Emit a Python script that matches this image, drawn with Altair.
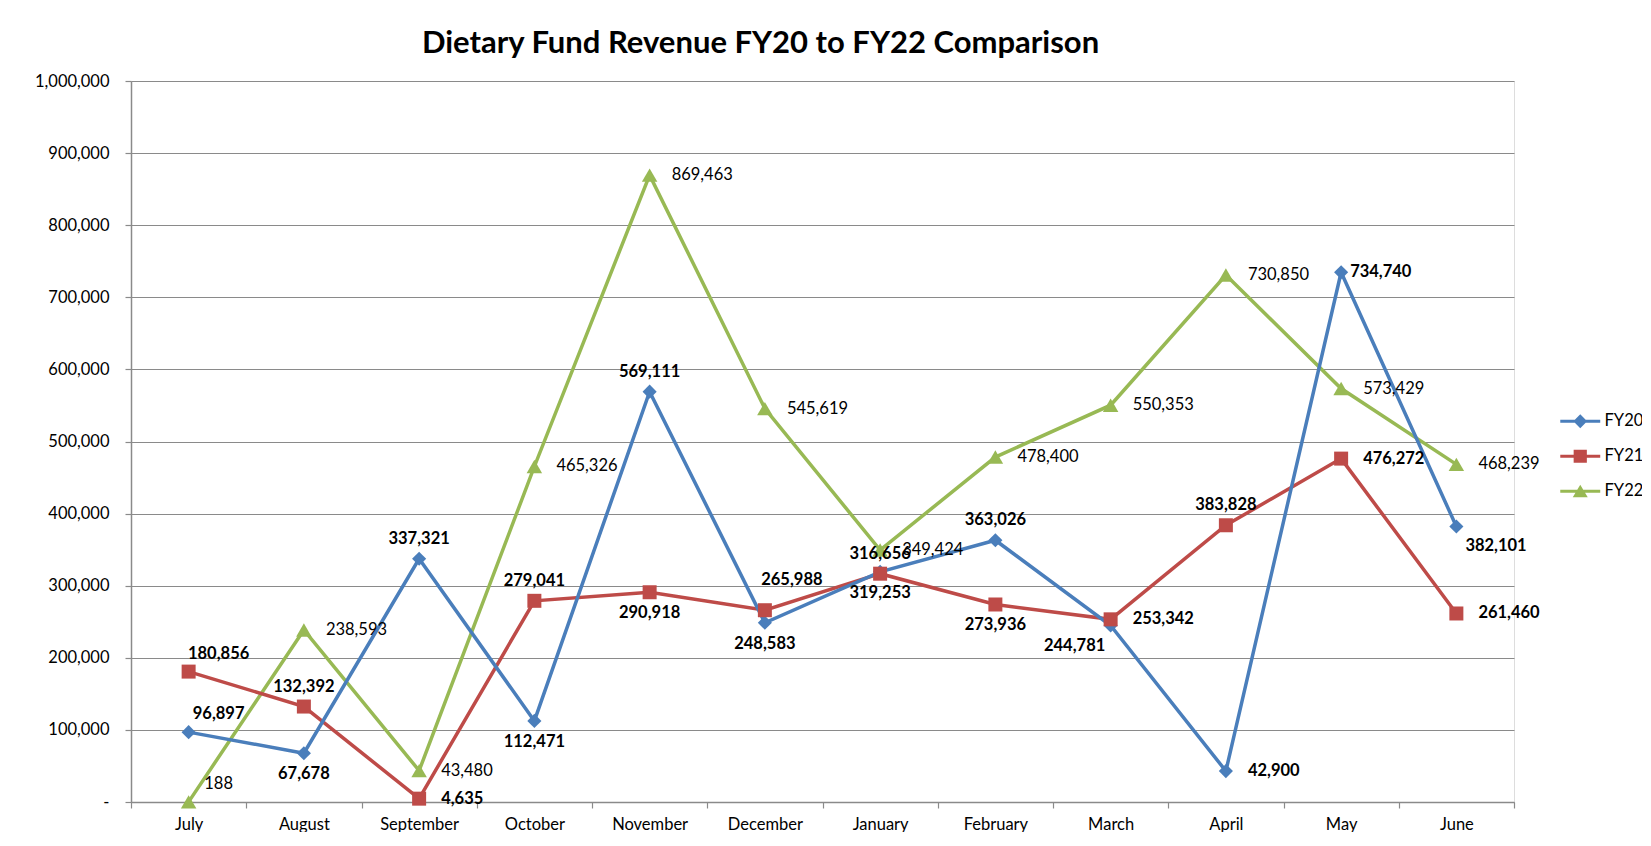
import altair as alt
import pandas as pd

months = ["July", "August", "September", "October", "November", "December",
          "January", "February", "March", "April", "May", "June"]
series_names = ["FY20", "FY21", "FY22"]

fy20 = [96897, 67678, 337321, 112471, 569111, 248583, 319253, 363026, 244781, 42900, 734740, 382101]
fy21 = [180856, 132392, 4635, 279041, 290918, 265988, 316656, 273936, 253342, 383828, 476272, 261460]
fy22 = [188, 238593, 43480, 465326, 869463, 545619, 349424, 478400, 550353, 730850, 573429, 468239]

# label placement (like Excel's data-label position setting)
fy20_label_pos = ["aboveright", "below", "above", "below", "above", "below",
                  "below", "above", "belowleft", "right", "rightnear", "belowright"]
fy21_label_pos = ["aboveright", "above", "right", "above", "below", "upright",
                  "above", "below", "right", "above", "right", "right"]
fy22_label_pos = ["aboveright", "right", "right", "right", "right", "right",
                  "right", "right", "right", "right", "right", "right"]

colors = ["#4A7EBB", "#BE4B48", "#98B954"]
marker_shapes = ["diamond", "square", "triangle-up"]
marker_sizes = [200, 196, 240]
label_weights = ["bold", "bold", "normal"]

rows = []
for name, vals, poss in zip(series_names, [fy20, fy21, fy22],
                            [fy20_label_pos, fy21_label_pos, fy22_label_pos]):
    for m, v, p in zip(months, vals, poss):
        rows.append({"month": m, "series": name, "value": v, "pos": p, "label": f"{v:,}"})
df = pd.DataFrame(rows)

FONT = "Lato"
FS = 16.5
GRID = "#8A8A8A"

placements = {
    "above": dict(dx=0, dy=-20, align="center"),
    "below": dict(dx=0, dy=21, align="center"),
    "right": dict(dx=22, dy=0, align="left"),
    "rightnear": dict(dx=9, dy=0, align="left"),
    "aboveright": dict(dx=30, dy=-18, align="center"),
    "belowright": dict(dx=9, dy=19, align="left"),
    "belowleft": dict(dx=-36, dy=20, align="center"),
    "upright": dict(dx=27, dy=-30, align="center"),
}

x_enc = alt.X(
    "month:N", sort=months,
    scale=alt.Scale(type="band", paddingInner=0, paddingOuter=0),
    axis=alt.Axis(title=None, labelAngle=0, tickBand="extent", grid=False,
                  domainColor=GRID, domainWidth=1.5, tickColor=GRID, tickWidth=1.2,
                  tickSize=6, labelPadding=8, labelFont=FONT, labelFontSize=FS,
                  labelColor="#000000"),
)
y_enc = alt.Y(
    "value:Q",
    scale=alt.Scale(domain=[0, 1000000], nice=False, zero=True),
    axis=alt.Axis(title=None, values=list(range(0, 1000001, 100000)),
                  labelExpr="datum.value == 0 ? '-' : format(datum.value, ',')",
                  grid=True, gridColor=GRID, gridWidth=1.2,
                  domainColor=GRID, domainWidth=1.5, tickColor=GRID, tickWidth=1.2,
                  tickSize=6, labelPadding=16, labelFont=FONT, labelFontSize=FS,
                  labelColor="#000000"),
)

color_scale = alt.Scale(domain=series_names, range=colors)

base = alt.Chart(df)
layers = []

# lines (FY20 drawn on top)
for name, col in reversed(list(zip(series_names, colors))):
    layers.append(
        base.transform_filter(alt.datum.series == name)
        .mark_line(strokeWidth=3.5, color=col)
        .encode(x=x_enc, y=y_enc)
    )

# markers
for name, col, shp, sz in zip(series_names, colors, marker_shapes, marker_sizes):
    layers.append(
        base.transform_filter(alt.datum.series == name)
        .mark_point(shape=shp, filled=True, size=sz, color=col, opacity=1)
        .encode(x=x_enc, y=y_enc)
    )

# legend-only layer (line + marker symbols)
legend_paths = [
    "M-3.33,-0.27H3.33V0.27H-3.33Z M0,-1.15L1.15,0L0,1.15L-1.15,0Z",
    "M-3.33,-0.27H3.33V0.27H-3.33Z M-1.1,-1.1H1.1V1.1H-1.1Z",
    "M-3.33,-0.27H3.33V0.27H-3.33Z M0,-1.1L1.25,1L-1.25,1Z",
]
leg = alt.Legend(title=None, orient="none", legendX=1441, legendY=332,
                 padding=0, labelFont=FONT, labelFontSize=FS, labelColor="#000000",
                 labelOffset=16, rowPadding=18, symbolSize=144, symbolOpacity=1,
                 symbolStrokeWidth=0)
layers.append(
    base.mark_point(filled=True, size=144, opacity=0)
    .encode(x=x_enc, y=y_enc,
            color=alt.Color("series:N", scale=color_scale, legend=leg),
            shape=alt.Shape("series:N",
                            scale=alt.Scale(domain=series_names, range=legend_paths),
                            legend=leg))
)

# data labels
for name, wt in zip(series_names, label_weights):
    sub_pos = df[df.series == name]["pos"].unique()
    for p in sub_pos:
        pl = placements[p]
        layers.append(
            base.transform_filter((alt.datum.series == name) & (alt.datum.pos == p))
            .mark_text(font=FONT, fontSize=FS, fontWeight=wt, color="#000000",
                       baseline="middle", **pl)
            .encode(x=x_enc, y=y_enc, text="label:N")
        )

chart = alt.layer(*layers).properties(
    width=1383, height=721,
    title=alt.TitleParams("Dietary Fund Revenue FY20 to FY22 Comparison",
                          font=FONT, fontSize=31, fontWeight="bold", color="#000000",
                          anchor="middle", dx=-62, offset=13),
    autosize=alt.AutoSizeParams(type="none"),
    padding={"left": 123, "top": 73, "right": 128, "bottom": 30},
).configure_view(stroke=None).configure(background="white")

chart.save("out.html", embed_options={"renderer": "svg", "actions": False})
